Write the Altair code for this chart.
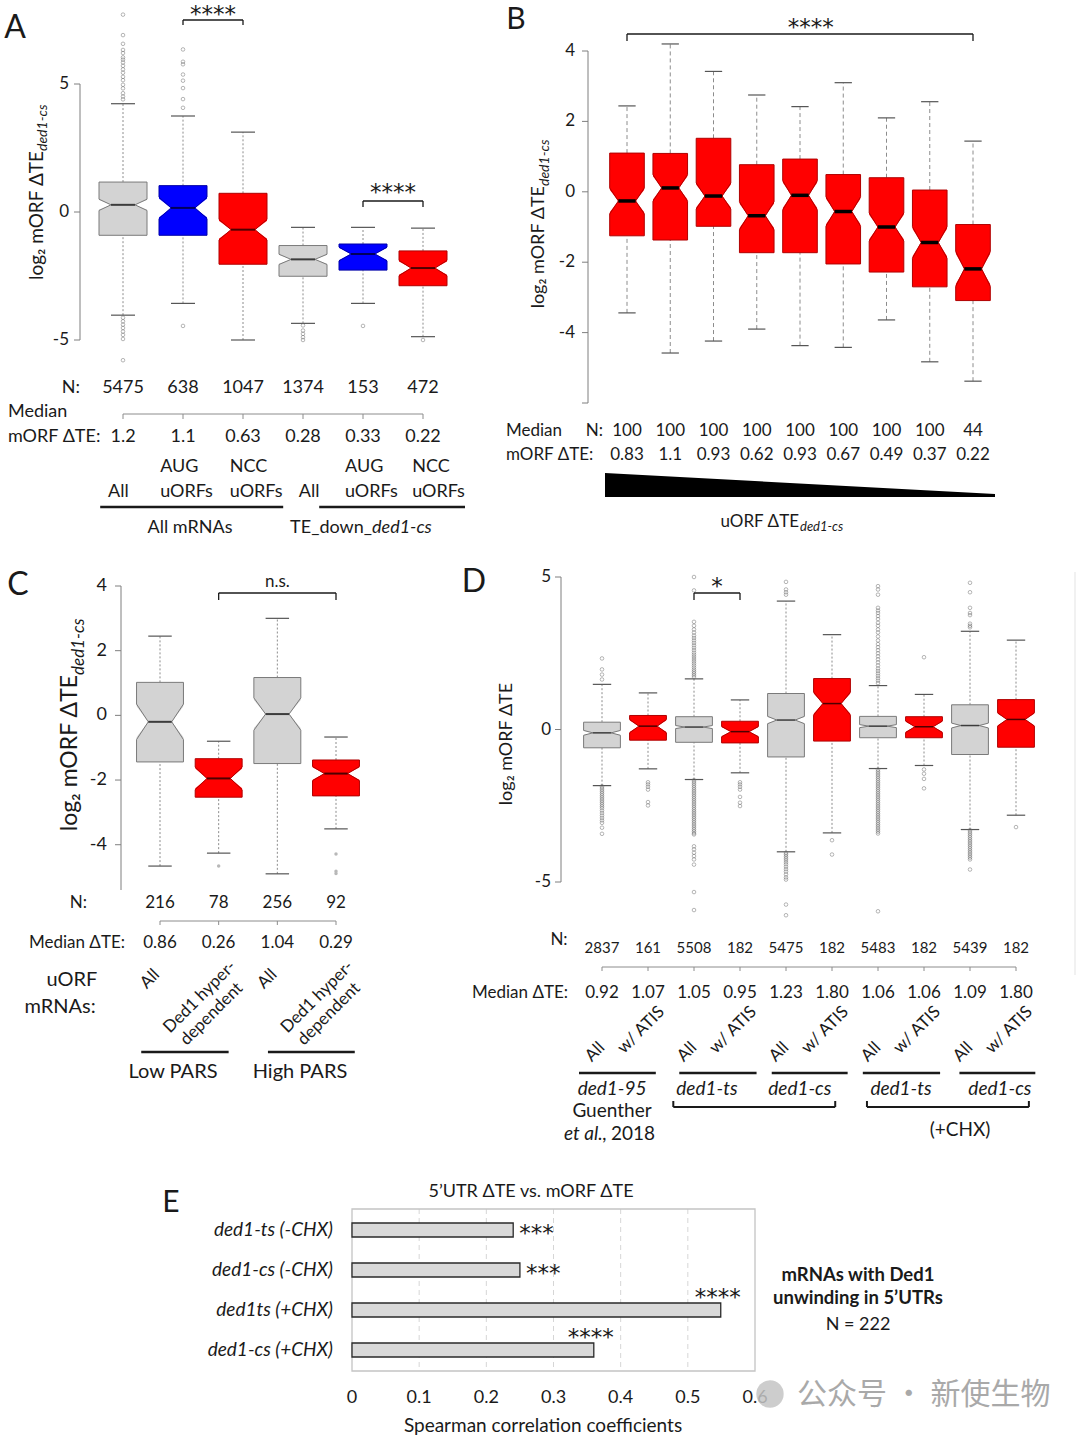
import altair as alt
import pandas as pd

FONT = "Lato"
STARF = "DejaVu Sans"
CJK = "Noto Sans CJK SC"
TXT = "#1a1a1a"
AXC = "#7f7f7f"
CONN = "#8c8c8c"

PAL = {
    "gray": ("#d3d3d3", "#7a7a7a", "#3c3c3c"),
    "red": ("#ff0000", "#b00000", "#4d0000"),
    "blue": ("#0000ff", "#0000a8", "#00005a"),
}

# ---------------- Panel A data ----------------
A_top = ["", "AUG", "NCC", "", "AUG", "NCC"]
A_bot = ["All", "uORFs", "uORFs", "All", "uORFs", "uORFs"]
A_n = ["5475", "638", "1047", "1374", "153", "472"]
A_mte = ["1.2", "1.1", "0.63", "0.28", "0.33", "0.22"]
A_col = ["gray", "blue", "red", "gray", "blue", "red"]
A_lo = [-4.03, -3.57, -5.00, -4.35, -3.57, -4.87]
A_q1 = [-0.91, -0.91, -2.04, -2.51, -2.27, -2.88]
A_med = [0.28, 0.16, -0.69, -1.85, -1.64, -2.19]
A_q3 = [1.17, 1.03, 0.73, -1.31, -1.25, -1.52]
A_hi = [4.23, 3.75, 3.12, -0.60, -0.60, -0.63]
A_notch = [0.22, 0.42, 0.40, 0.20, 0.27, 0.30]
A_out = {
    1: [7.71, 6.91, 6.57, 6.33, 6.21, 6.04, 5.95, 5.84, 5.71, 5.57, 5.44, 5.28, 5.15,
        4.97, 4.83, 4.64, 4.51, 4.40, -4.13, -4.27, -4.40, -4.53, -4.67, -4.80, -4.96, -5.79],
    2: [6.35, 5.87, 5.77, 5.37, 5.13, 4.84, 4.41, 4.07, -4.45],
    4: [-4.43, -4.63, -4.76, -4.89, -5.00],
    5: [-4.45],
    6: [-5.00],
}
A_yticks = [-5, 0, 5]
A_ylabels = ["-5", "0", "5"]

# ---------------- Panel B data ----------------
B_n = ["100", "100", "100", "100", "100", "100", "100", "100", "44"]
B_mte = ["0.83", "1.1", "0.93", "0.62", "0.93", "0.67", "0.49", "0.37", "0.22"]
B_col = ["red"] * 9
B_lo = [-3.44, -4.58, -4.24, -3.90, -4.37, -4.42, -3.64, -4.83, -5.38]
B_q1 = [-1.25, -1.37, -0.98, -1.73, -1.73, -2.05, -2.28, -2.70, -3.09]
B_med = [-0.26, 0.11, -0.12, -0.68, -0.10, -0.56, -1.00, -1.44, -2.19]
B_q3 = [1.10, 1.09, 1.52, 0.77, 0.93, 0.49, 0.40, 0.05, -0.93]
B_hi = [2.44, 4.20, 3.42, 2.75, 2.42, 3.10, 2.10, 2.56, 1.44]
B_notch = [0.37, 0.38, 0.37, 0.40, 0.42, 0.42, 0.40, 0.45, 0.50]
B_yticks = [-6, -4, -2, 0, 2, 4]
B_ylabels = ["", "-4", "-2", "0", "2", "4"]

# ---------------- Panel C data ----------------
C_n = ["216", "78", "256", "92"]
C_mte = ["0.86", "0.26", "1.04", "0.29"]
C_col = ["gray", "red", "gray", "red"]
C_lo = [-4.66, -4.26, -4.90, -3.51]
C_q1 = [-1.44, -2.53, -1.49, -2.49]
C_med = [-0.20, -1.95, 0.04, -1.80]
C_q3 = [1.02, -1.34, 1.17, -1.38]
C_hi = [2.45, -0.80, 3.00, -0.67]
C_notch = [0.55, 0.35, 0.50, 0.22]
C_out = {2: [-4.66], 4: [-4.29, -4.82, -4.89]}
C_yticks = [-4, -2, 0, 2, 4]
C_ylabels = ["-4", "-2", "0", "2", "4"]

# ---------------- Panel D data ----------------
D_n = ["2837", "161", "5508", "182", "5475", "182", "5483", "182", "5439", "182"]
D_mte = ["0.92", "1.07", "1.05", "0.95", "1.23", "1.80", "1.06", "1.06", "1.09", "1.80"]
D_col = ["gray", "red"] * 5
D_lo = [-1.84, -1.29, -1.64, -1.42, -4.01, -3.39, -1.28, -1.18, -3.28, -2.81]
D_q1 = [-0.60, -0.35, -0.42, -0.44, -0.90, -0.38, -0.27, -0.27, -0.82, -0.58]
D_med = [-0.11, 0.11, 0.08, -0.07, 0.31, 0.85, 0.11, 0.09, 0.13, 0.33]
D_q3 = [0.24, 0.46, 0.42, 0.27, 1.18, 1.67, 0.43, 0.42, 0.81, 0.98]
D_hi = [1.48, 1.20, 1.66, 0.97, 4.21, 3.11, 1.44, 1.15, 3.22, 2.93]
D_notch = [0.08, 0.22, 0.05, 0.17, 0.12, 0.38, 0.05, 0.19, 0.08, 0.22]
D_out = {
    1: [2.33, 1.97, 1.80, 1.64, -1.86, -1.92, -1.98, -2.04, -2.10, -2.16, -2.22, -2.28, -2.34,
        -2.40, -2.46, -2.52, -2.58, -2.66, -2.74, -2.82, -2.90, -2.98, -3.06, -3.22, -3.42],
    2: [-1.73, -1.80, -1.88, -1.97, -2.38, -2.49],
    3: [5.00, 4.56, 3.53, 3.40, 3.28, 3.18, 3.08, 3.00, 2.92, 2.84, 2.76, 2.68, 2.60, 2.52,
        2.45, 2.38, 2.31, 2.24, 2.17, 2.10, 2.03, 1.96, 1.90, 1.84, 1.78, 1.72,
        -1.66, -1.72, -1.78, -1.84, -1.90, -1.96, -2.02, -2.08, -2.14, -2.20, -2.26, -2.32,
        -2.38, -2.44, -2.50, -2.56, -2.62, -2.68, -2.74, -2.80, -2.86, -2.92, -2.98, -3.04,
        -3.10, -3.16, -3.22, -3.28, -3.34, -3.40, -3.44, -3.83, -3.93, -4.04, -4.15, -4.26,
        -4.43, -5.33, -5.92],
    4: [-1.73, -1.80, -1.88, -1.97, -2.21, -2.40, -2.51],
    5: [4.84, 4.59, 4.50, 4.42, -4.05, -4.10, -4.16, -4.22, -4.28, -4.35, -4.42, -4.50, -4.58,
        -4.66, -4.75, -4.85, -4.92, -5.74, -6.09],
    6: [-3.63, -4.10],
    7: [4.70, 4.59, 4.42, 3.99, 3.90, 3.82, 3.72, 3.62, 3.50, 3.40, 3.28, 3.18, 3.05, 2.92,
        2.80, 2.70, 2.60, 2.50, 2.40, 2.30, 2.20, 2.10, 2.00, 1.92, 1.84, 1.76, 1.68, 1.60,
        1.52, -1.31, -1.37, -1.43, -1.49, -1.55, -1.61, -1.67, -1.73, -1.79, -1.85, -1.91,
        -1.97, -2.03, -2.09, -2.15, -2.21, -2.27, -2.33, -2.39, -2.45, -2.51, -2.57, -2.63,
        -2.69, -2.75, -2.81, -2.87, -2.93, -2.99, -3.05, -3.11, -3.17, -3.23, -3.29, -3.35,
        -3.41, -5.96],
    8: [2.37, -1.31, -1.45, -1.62, -1.93],
    9: [4.81, 4.50, 3.99, 3.82, 3.75, 3.47, 3.40, 3.35, -3.30, -3.36, -3.42, -3.48, -3.54,
        -3.60, -3.66, -3.72, -3.78, -3.84, -3.90, -3.96, -4.02, -4.08, -4.14, -4.20, -4.26, -4.59],
    10: [-3.20],
}
D_strains = ["ded1-95", "ded1-ts", "ded1-cs", "ded1-ts", "ded1-cs"]
D_yticks = [-5, 0, 5]
D_ylabels = ["-5", "0", "5"]

# ---------------- Panel E data ----------------
E_labels = ["ded1-ts (-CHX)", "ded1-cs (-CHX)", "ded1ts (+CHX)", "ded1-cs (+CHX)"]
E_values = [0.24, 0.25, 0.549, 0.36]
E_stars = ["***", "***", "****", "****"]
E_ticks = [0, 0.1, 0.2, 0.3, 0.4, 0.5, 0.6]
E_ticklabels = ["0", "0.1", "0.2", "0.3", "0.4", "0.5", "0.6"]
E_grid = [0.1, 0.2, 0.3, 0.4, 0.5]


# ---------------- helpers ----------------
def qs(dom, rng):
    return alt.Scale(domain=list(dom), range=list(rng), nice=False, zero=False)


def label(t, x, y, size=17, align="center", angle=0, italic=False, bold=False,
          color=TXT, font=FONT, baseline="middle"):
    return alt.Chart(pd.DataFrame({"t": [t]})).mark_text(
        font=font, fontSize=size, align=align, baseline=baseline, angle=angle,
        fontStyle="italic" if italic else "normal",
        fontWeight="bold" if bold else "normal", color=color,
    ).encode(x=alt.value(x), y=alt.value(y), text="t:N")


def row(texts, pos, xsc, y, size=17, align="center", angle=0, italic=False, color=TXT, font=FONT):
    df = pd.DataFrame({"p": pos, "t": texts})
    return alt.Chart(df).mark_text(
        font=font, fontSize=size, align=align, baseline="middle", angle=angle,
        fontStyle="italic" if italic else "normal", color=color,
    ).encode(x=alt.X("p:Q", scale=xsc, axis=None), y=alt.value(y), text="t:N")


def stars(t, pos, xsc, y, size=23):
    return row([t], [pos], xsc, y, size=size, font=STARF)


def hrule(a, b, xsc, y, color=TXT, width=1.0):
    df = pd.DataFrame({"a": [a], "b": [b]})
    return alt.Chart(df).mark_rule(color=color, strokeWidth=width).encode(
        x=alt.X("a:Q", scale=xsc, axis=None), x2=alt.X2("b"), y=alt.value(y))


def vticks(pos, xsc, y0, y1, color=TXT, width=1.0):
    df = pd.DataFrame({"p": pos})
    return alt.Chart(df).mark_rule(color=color, strokeWidth=width).encode(
        x=alt.X("p:Q", scale=xsc, axis=None), y=alt.value(y0), y2=alt.value(y1))


def bracket(a, b, xsc, y, leg, width=1.3):
    return [hrule(a, b, xsc, y, width=width), vticks([a, b], xsc, y, y + leg, width=width)]


def yaxis(ysc, xpx, lo, hi, ticks, labels, size, gap):
    dom = pd.DataFrame({"a": [lo], "b": [hi]})
    tk = pd.DataFrame({"t": ticks, "l": labels})
    line = alt.Chart(dom).mark_rule(color=AXC, strokeWidth=1).encode(
        x=alt.value(xpx), y=alt.Y("a:Q", scale=ysc, axis=None), y2=alt.Y2("b"))
    tick = alt.Chart(tk).mark_rule(color=AXC, strokeWidth=1).encode(
        x=alt.value(xpx - 6), x2=alt.value(xpx), y=alt.Y("t:Q", scale=ysc, axis=None))
    lab = alt.Chart(tk).mark_text(font=FONT, fontSize=size, align="right", baseline="middle",
                                  color=TXT).encode(
        x=alt.value(xpx - gap), y=alt.Y("t:Q", scale=ysc, axis=None), text="l:N")
    return [line, tick, lab]


def boxplot(lo, q1, med, q3, hi, notch, cols, outl, xsc, ysc, dash, medw,
            medcol=None, hw=0.4, cap=0.2, out_filled=False, whisk_col="#8c8c8c"):
    n = len(med)
    idx = list(range(1, n + 1))
    st = pd.DataFrame({
        "i": idx, "lo": lo, "q1": q1, "med": med, "q3": q3, "hi": hi,
        "bl": [c - hw for c in idx], "br": [c + hw for c in idx],
        "ml": [c - hw / 2 for c in idx], "mr": [c + hw / 2 for c in idx],
        "cl": [c - cap for c in idx], "cr": [c + cap for c in idx],
        "fill": [PAL[c][0] for c in cols],
        "mc": [medcol or PAL[c][2] for c in cols],
    })
    tri, path = [], []
    for i in range(n):
        c, m, nt = i + 1, med[i], notch[i]
        tri += [
            {"g": f"{c}L", "x": c - hw - 0.03, "t": m + nt, "b": m - nt},
            {"g": f"{c}L", "x": c - hw / 2, "t": m, "b": m},
            {"g": f"{c}R", "x": c + hw / 2, "t": m, "b": m},
            {"g": f"{c}R", "x": c + hw + 0.03, "t": m + nt, "b": m - nt},
        ]
        pts = [(c - hw, q1[i]), (c - hw, m - nt), (c - hw / 2, m), (c - hw, m + nt),
               (c - hw, q3[i]), (c + hw, q3[i]), (c + hw, m + nt), (c + hw / 2, m),
               (c + hw, m - nt), (c + hw, q1[i]), (c - hw, q1[i])]
        for k, (px, py) in enumerate(pts):
            path.append({"b": c, "k": k, "x": px, "y": py, "line": PAL[cols[i]][1]})
    tri = pd.DataFrame(tri)
    path = pd.DataFrame(path)

    def X(f):
        return alt.X(f, type="quantitative", scale=xsc, axis=None)

    def Y(f):
        return alt.Y(f, type="quantitative", scale=ysc, axis=None)

    wu = alt.Chart(st).mark_rule(color=whisk_col, strokeDash=dash, strokeWidth=1).encode(
        x=X("i"), y=Y("q3"), y2=alt.Y2("hi"))
    wl = alt.Chart(st).mark_rule(color=whisk_col, strokeDash=dash, strokeWidth=1).encode(
        x=X("i"), y=Y("lo"), y2=alt.Y2("q1"))
    cu = alt.Chart(st).mark_rule(color="#555555", strokeWidth=1.2).encode(
        x=X("cl"), x2=alt.X2("cr"), y=Y("hi"))
    cl = alt.Chart(st).mark_rule(color="#555555", strokeWidth=1.2).encode(
        x=X("cl"), x2=alt.X2("cr"), y=Y("lo"))
    box = alt.Chart(st).mark_rect().encode(
        x=X("bl"), x2=alt.X2("br"), y=Y("q1"), y2=alt.Y2("q3"),
        fill=alt.Fill("fill:N", scale=None))
    cut = alt.Chart(tri).mark_area(color="white", opacity=1).encode(
        x=X("x"), y=Y("t"), y2=alt.Y2("b"), detail="g:N")
    outline = alt.Chart(path).mark_line(strokeWidth=1).encode(
        x=X("x"), y=Y("y"), order="k:Q", detail="b:N", color=alt.Color("line:N", scale=None))
    md = alt.Chart(st).mark_rule(strokeWidth=medw).encode(
        x=X("ml"), x2=alt.X2("mr"), y=Y("med"), color=alt.Color("mc:N", scale=None))
    layers = [wu, wl, box, cut, outline, md, cu, cl]
    od = pd.DataFrame([{"i": k, "v": v} for k, vs in outl.items() for v in vs])
    if len(od):
        if out_filled:
            pm = alt.Chart(od).mark_circle(size=12, color="#b8b8b8", opacity=1)
        else:
            pm = alt.Chart(od).mark_point(shape="circle", filled=False, size=13,
                                          strokeWidth=0.7, color="#6a6a6a")
        layers.append(pm.encode(x=X("i"), y=Y("v")))
    return layers


# ---------------- Panel A ----------------
xA = qs([1, 6], [123, 423])
yA = qs([-5, 5], [340, 84])
idxA = list(range(1, 7))
A_shift = [-0.25, -0.38, -0.22, -0.07, -0.30, -0.18]
A_lab_pos = [i + s for i, s in zip(idxA, A_shift)]
panelA = alt.layer(
    *yaxis(yA, 80, -5, 5, A_yticks, A_ylabels, 17, 11),
    *boxplot(A_lo, A_q1, A_med, A_q3, A_hi, A_notch, A_col, A_out, xA, yA, [2, 2], 2),
    *bracket(2, 3, xA, 20, 5), stars("****", 2.5, xA, 15),
    *bracket(5, 6, xA, 201, 6), stars("****", 5.5, xA, 193),
    label("N:", 80, 388, 18, align="right"), row(A_n, idxA, xA, 388, 18),
    hrule(1, 6, xA, 414, color=CONN), vticks(idxA, xA, 414, 419, color=CONN),
    label("Median", 8, 412, 18, align="left"), label("mORF ΔTE:", 8, 437, 18, align="left"),
    row(A_mte, idxA, xA, 437, 18),
    row(A_top, A_lab_pos, xA, 467, 18, align="left"),
    row(A_bot, A_lab_pos, xA, 492, 18, align="left"),
    hrule(0.62, 3.67, xA, 507, width=2.5), hrule(4.27, 6.7, xA, 507, width=2.5),
)

# ---------------- Panel B ----------------
xB = qs([1, 9], [627, 973])
yB = qs([-6, 4], [403, 51])
idxB = list(range(1, 10))
panelB = alt.layer(
    *yaxis(yB, 588, -6, 4, B_yticks, B_ylabels, 17, 13),
    *boxplot(B_lo, B_q1, B_med, B_q3, B_hi, B_notch, B_col, {}, xB, yB, [4, 3], 3.5,
             medcol="#000000"),
    *bracket(1, 9, xB, 34, 7), stars("****", 5.25, xB, 28),
    row(B_n, idxB, xB, 431, 17), row(B_mte, idxB, xB, 455, 17),
)
tri = pd.DataFrame({"p": [0, 1], "top": [1.0, 0.12], "bot": [0.0, 0.0]})
panelBtri = alt.Chart(tri).mark_area(color="#000000").encode(
    x=alt.X("p:Q", scale=qs([0, 1], [605, 995]), axis=None),
    y=alt.Y("top:Q", scale=qs([0, 1], [497, 473]), axis=None),
    y2=alt.Y2("bot"))

# ---------------- Panel C ----------------
xC = qs([1, 4], [160, 336])
yC = qs([-5.4, 4], [890, 586])
idxC = list(range(1, 5))
panelC = alt.layer(
    *yaxis(yC, 121, -5.4, 4, C_yticks, C_ylabels, 18, 14),
    *boxplot(C_lo, C_q1, C_med, C_q3, C_hi, C_notch, C_col, C_out, xC, yC, [2, 2], 2,
             out_filled=True),
    *bracket(2, 4, xC, 593, 7), row(["n.s."], [3], xC, 582, 17),
    row(C_n, idxC, xC, 903, 17),
    hrule(1, 4, xC, 921, color=CONN), vticks(idxC, xC, 921, 925, color=CONN),
    row(C_mte, idxC, xC, 943, 17),
    row(["All", "All"], [1 - 0.17, 3 - 0.17], xC, 979, 17, angle=315),
    row(["Ded1 hyper-", "Ded1 hyper-"], [2 - 0.32, 4 - 0.32], xC, 997, 17, angle=315),
    row(["dependent", "dependent"], [2 - 0.12, 4 - 0.12], xC, 1014, 17, angle=315),
    hrule(0.68, 2.17, xC, 1052, width=2.5), hrule(2.84, 4.32, xC, 1052, width=2.5),
)

# ---------------- Panel D ----------------
xD = qs([1, 10], [602, 1016])
yD = qs([-5, 5], [882, 577])
idxD = list(range(1, 11))
panelD = alt.layer(
    *yaxis(yD, 561, -5, 5, D_yticks, D_ylabels, 17, 10),
    *boxplot(D_lo, D_q1, D_med, D_q3, D_hi, D_notch, D_col, D_out, xD, yD, [2, 2], 1.5),
    *bracket(3, 4, xD, 593, 7), stars("*", 3.5, xD, 587),
    row(D_n, idxD, xD, 948, 15),
    hrule(1, 10, xD, 967, color=CONN), vticks(idxD, xD, 967, 971, color=CONN),
    row(D_mte, idxD, xD, 993, 17),
    row(["All"] * 5, [i - 0.15 for i in [1, 3, 5, 7, 9]], xD, 1052, 17, angle=315),
    row(["w/ ATIS"] * 5, [i - 0.15 for i in [2, 4, 6, 8, 10]], xD, 1030, 17, angle=315),
    hrule(0.5, 2.17, xD, 1073, width=2.5), hrule(2.68, 4.36, xD, 1073, width=2.5),
    hrule(4.69, 6.34, xD, 1073, width=2.5), hrule(6.67, 8.35, xD, 1073, width=2.5),
    hrule(8.77, 10.42, xD, 1073, width=2.5),
    row(D_strains, [1.22, 3.28, 5.30, 7.5, 9.65], xD, 1089, 19, italic=True),
    *bracket(2.55, 6.07, xD, 1107, -6, width=2), *bracket(6.76, 10.28, xD, 1107, -6, width=2),
)

# ---------------- Panel E ----------------
xE = qs([0, 0.6], [352, 755])
yE = alt.Scale(domain=E_labels, range=[1210, 1370], paddingInner=0.65, paddingOuter=0.325)
edf = pd.DataFrame({"lab": E_labels, "v": E_values, "z": [0.0] * 4, "s": E_stars,
                    "k": [0, 1, 2, 3]})
etk = pd.DataFrame({"t": E_ticks, "l": E_ticklabels})
frame = pd.DataFrame({"a": [0.0], "b": [0.6]})
grid = pd.DataFrame({"g": E_grid})
EY = alt.Y("lab:N", scale=yE, axis=None, sort=E_labels)
panelE = alt.layer(
    alt.Chart(grid).mark_rule(color="#d6d6d6", strokeDash=[5, 4], strokeWidth=1).encode(
        x=alt.X("g:Q", scale=xE, axis=None), y=alt.value(1209), y2=alt.value(1371)),
    alt.Chart(frame).mark_rect(fillOpacity=0, stroke="#c4c4c4", strokeWidth=1.3).encode(
        x=alt.X("a:Q", scale=xE, axis=None), x2=alt.X2("b"),
        y=alt.value(1209), y2=alt.value(1371)),
    alt.Chart(edf).mark_bar(fill="#d9d9d9", stroke="#2a2a2a", strokeWidth=1.3).encode(
        x=alt.X("z:Q", scale=xE, axis=None), x2=alt.X2("v"), y=EY),
    alt.Chart(edf).mark_text(font=FONT, fontSize=19, align="right", baseline="middle",
                             fontStyle="italic", color=TXT).encode(
        x=alt.value(333), y=EY, text="lab:N"),
    alt.Chart(etk).mark_text(font=FONT, fontSize=18, align="center", baseline="middle",
                             color=TXT).encode(
        x=alt.X("t:Q", scale=xE, axis=None), y=alt.value(1398), text="l:N"),
    alt.Chart(edf).transform_filter("datum.k < 2").mark_text(
        font=STARF, fontSize=23, align="left", baseline="middle", dx=6, dy=4, color=TXT).encode(
        x=alt.X("v:Q", scale=xE, axis=None), y=EY, text="s:N"),
    alt.Chart(edf).transform_filter("datum.k >= 2").mark_text(
        font=STARF, fontSize=23, align="center", baseline="middle", dx=-3, dy=-12, color=TXT).encode(
        x=alt.X("v:Q", scale=xE, axis=None), y=EY, text="s:N"),
)

# ---------------- free texts ----------------
texts = alt.layer(
    label("A", 15, 28, 32), label("B", 516, 20, 30), label("C", 18, 585, 32),
    label("D", 474, 582, 32), label("E", 171, 1203, 30),
    # A
    label("log₂ mORF ΔTE", 37, 151, 19, align="right", angle=270),
    label("ded1-cs", 43, 151, 14, align="left", angle=270, italic=True),
    label("All mRNAs", 190, 528, 18),
    label("TE_down_", 372, 528, 18, align="right"),
    label("ded1-cs", 372, 528, 18, align="left", italic=True),
    # B
    label("log₂ mORF ΔTE", 539, 186, 18, align="right", angle=270),
    label("ded1-cs", 545, 186, 14, align="left", angle=270, italic=True),
    label("Median", 506, 431, 17, align="left"), label("N:", 603, 431, 17, align="right"),
    label("mORF ΔTE:", 506, 455, 17, align="left"),
    label("uORF ΔTE", 799, 522, 17, align="right"),
    label("ded1-cs", 800, 527, 13, align="left", italic=True),
    # C
    label("log₂ mORF ΔTE", 70, 675, 23, align="right", angle=270),
    label("ded1-cs", 79, 675, 17, align="left", angle=270, italic=True),
    label("N:", 87, 903, 17, align="right"),
    label("Median ΔTE:", 125, 943, 17, align="right"),
    label("uORF", 72, 980, 20), label("mRNAs:", 60, 1007, 20),
    label("Low PARS", 173, 1072, 20), label("High PARS", 300, 1072, 20),
    # D
    label("log₂ mORF ΔTE", 507, 744, 18, angle=270),
    label("N:", 559, 940, 17),
    label("Median  ΔTE:", 472, 993, 17, align="left"),
    label("Guenther", 612, 1111, 19),
    label("et al.,", 607, 1134, 19, align="right", italic=True),
    label("2018", 611, 1134, 19, align="left"),
    label("(+CHX)", 960, 1130, 19),
    # E
    label("5’UTR ΔTE vs. mORF ΔTE", 531, 1192, 18),
    label("Spearman correlation coefficients", 543, 1426, 19),
    label("mRNAs with Ded1", 858, 1275, 18.5, bold=True),
    label("unwinding in 5’UTRs", 858, 1298, 18.5, bold=True),
    label("N = 222", 858, 1325, 18),
    # watermark
    label("公众号 · 新使生物", 797, 1395, 30, align="left", color="#a9a9a9", font=CJK),
)

misc = alt.layer(
    alt.Chart(pd.DataFrame({"k": [0]})).mark_rule(color="#ececec", strokeWidth=1.5).encode(
        x=alt.value(1075), y=alt.value(572), y2=alt.value(975)),
    alt.Chart(pd.DataFrame({"k": [0]})).mark_circle(size=750, color="#c4c4c4", opacity=0.85).encode(
        x=alt.value(770), y=alt.value(1394)),
)

chart = alt.layer(panelA, panelB, panelBtri, panelC, panelD, panelE, misc, texts).resolve_scale(
    x="independent", y="independent"
).properties(
    width=1080, height=1440, padding=0, autosize=alt.AutoSizeParams(type="none"),
    background="white",
).configure_view(stroke=None)

chart.save("out.html", embed_options={"renderer": "svg", "actions": False})
